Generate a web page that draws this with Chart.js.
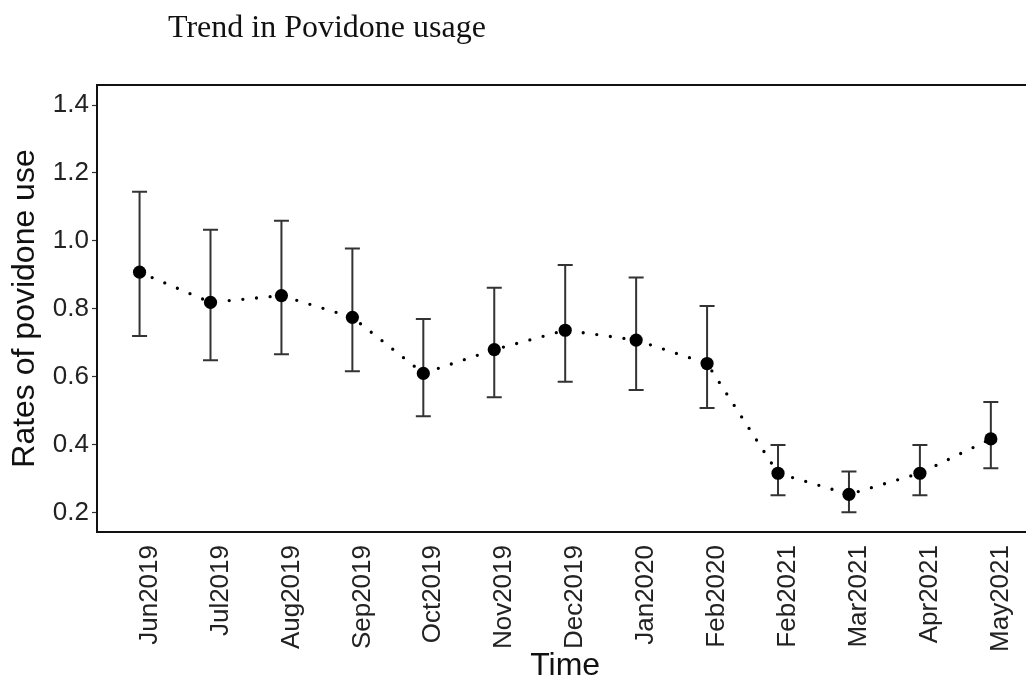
<!DOCTYPE html>
<html>
<head>
<meta charset="utf-8">
<script src="https://cdn.jsdelivr.net/npm/chart.js@4.4.1/dist/chart.umd.min.js"></script>
<style>
  html, body { margin: 0; padding: 0; background: #fff; overflow: hidden; }
  #wrap { position: relative; width: 1040px; height: 682px; }
</style>
</head>
<body>
<div id="wrap"><canvas id="c" width="1040" height="682"></canvas></div>
<script>
// ---- data ----
const categories = ['Jun2019','Jul2019','Aug2019','Sep2019','Oct2019','Nov2019','Dec2019','Jan2020','Feb2020','Feb2021','Mar2021','Apr2021','May2021'];
const means = [0.908, 0.819, 0.839, 0.775, 0.610, 0.680, 0.737, 0.708, 0.639, 0.316, 0.254, 0.316, 0.417];
const lower = [0.720, 0.649, 0.666, 0.616, 0.484, 0.540, 0.585, 0.561, 0.508, 0.251, 0.201, 0.251, 0.331];
const upper = [1.145, 1.033, 1.059, 0.978, 0.770, 0.862, 0.929, 0.892, 0.808, 0.399, 0.321, 0.399, 0.526];
const yTicks = [0.2, 0.4, 0.6, 0.8, 1.0, 1.2, 1.4];
const chartTitle = 'Trend in Povidone usage';
const xTitle = 'Time';
const yTitle = 'Rates of povidone use';

const points = means.map((v, i) => ({ x: i, y: v }));

const errorBars = {
  id: 'errorBars',
  beforeDatasetsDraw(chart) {
    const { ctx, scales: { x, y } } = chart;
    ctx.save();
    ctx.strokeStyle = '#333';
    ctx.lineWidth = 2;
    const cap = 7.5;
    for (let i = 0; i < categories.length; i++) {
      const px = x.getPixelForValue(i);
      const yl = y.getPixelForValue(lower[i]);
      const yu = y.getPixelForValue(upper[i]);
      ctx.beginPath();
      ctx.moveTo(px, yl); ctx.lineTo(px, yu);
      ctx.moveTo(px - cap, yl); ctx.lineTo(px + cap, yl);
      ctx.moveTo(px - cap, yu); ctx.lineTo(px + cap, yu);
      ctx.stroke();
    }
    ctx.restore();
  }
};

const frameAndTitle = {
  id: 'frameAndTitle',
  afterDraw(chart) {
    const { ctx, chartArea: a } = chart;
    ctx.save();
    ctx.strokeStyle = '#111';
    ctx.lineWidth = 2;
    ctx.strokeRect(a.left, a.top, a.right - a.left, a.bottom - a.top);
    ctx.fillStyle = '#111';
    ctx.font = '32px "Liberation Serif", "Times New Roman", serif';
    ctx.textBaseline = 'alphabetic';
    ctx.textAlign = 'left';
    ctx.fillText(chartTitle, 168, 37);
    ctx.restore();
  }
};

new Chart(document.getElementById('c'), {
  type: 'line',
  data: {
    datasets: [{
      data: points,
      borderColor: '#000',
      borderWidth: 3.3,
      borderDash: [0, 13.7],
      borderCapStyle: 'round',
      pointRadius: 6.6,
      pointBackgroundColor: '#000',
      pointBorderWidth: 0,
      pointHoverRadius: 6.6,
      tension: 0,
      fill: false
    }]
  },
  options: {
    responsive: false,
    animation: false,
    devicePixelRatio: 1,
    layout: { padding: { top: 85, left: 0, right: 0, bottom: 0 } },
    plugins: { legend: { display: false }, tooltip: { enabled: false }, title: { display: false } },
    scales: {
      x: {
        type: 'linear',
        min: -0.6,
        max: 12.6,
        afterFit(s) { s.height = 150; },
        afterBuildTicks(s) { s.ticks = categories.map((c, i) => ({ value: i })); },
        grid: { display: false, drawTicks: false },
        border: { display: false },
        ticks: {
          autoSkip: false,
          minRotation: 90,
          maxRotation: 90,
          padding: 13,
          labelOffset: 10,
          color: '#222',
          font: { family: '"Liberation Sans", Arial, sans-serif', size: 26 },
          callback: (v) => categories[v]
        },
        title: {
          display: true,
          text: xTitle,
          color: '#111',
          font: { family: '"Liberation Sans", Arial, sans-serif', size: 32, lineHeight: 1 },
          padding: { top: 0, bottom: 0 }
        }
      },
      y: {
        min: 0.143,
        max: 1.459,
        afterFit(s) { s.width = 97; },
        afterBuildTicks(s) { s.ticks = yTicks.map(v => ({ value: v })); },
        grid: { display: true, drawOnChartArea: false, drawTicks: true, tickLength: 5, color: '#333', tickColor: '#333', tickWidth: 1.2 },
        border: { display: false },
        ticks: {
          padding: 3,
          color: '#222',
          font: { family: '"Liberation Sans", Arial, sans-serif', size: 26 },
          callback: (v) => Number(v).toFixed(1)
        },
        title: {
          display: true,
          text: yTitle,
          color: '#111',
          font: { family: '"Liberation Sans", Arial, sans-serif', size: 32, lineHeight: 1 },
          padding: { top: 9, bottom: 0 }
        }
      }
    }
  },
  plugins: [errorBars, frameAndTitle]
});
</script>
</body>
</html>
